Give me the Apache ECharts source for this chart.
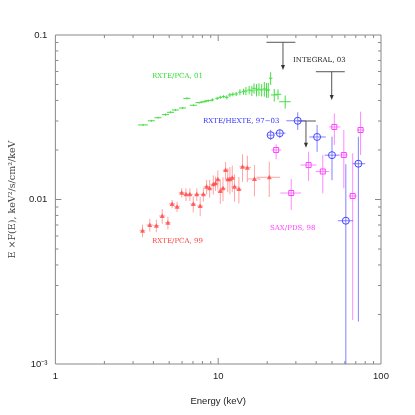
<!DOCTYPE html>
<html>
<head>
<meta charset="utf-8">
<script src="https://cdn.jsdelivr.net/npm/echarts@6/dist/echarts.min.js"></script>
<style>
  html, body { margin: 0; padding: 0; background: #fff; }
  #chart { width: 415px; height: 415px; }
</style>
</head>
<body>
<div id="chart"></div>
<script>
// RXTE/PCA 2001 (green) - energy (keV), half bin width, E*F(E), error
var pca01Energy = [3.46, 3.89, 4.27, 4.75, 5.10, 5.46, 6.05, 6.43, 7.05, 7.64, 8.19, 8.70, 9.20, 9.86, 10.3, 10.8, 11.3, 11.8,
  12.3, 12.9, 13.6, 14.3, 14.8, 15.5, 16.1, 16.6, 17.2, 17.8, 18.5, 19.2, 19.8, 20.3, 21.0, 22.1, 23.3, 25.8];
var pca01EnergyErr = [0.24, 0.19, 0.21, 0.24, 0.26, 0.27, 0.30, 0.32, 0.35, 0.38, 0.41, 0.43, 0.23, 0.25, 0.26, 0.27, 0.28, 0.30,
  0.31, 0.32, 0.34, 0.36, 0.37, 0.39, 0.40, 0.42, 0.43, 0.45, 0.46, 0.48, 0.50, 0.51, 0.53, 1.0, 1.1, 2.1];
var pca01Flux = [0.0284, 0.0301, 0.0314, 0.0328, 0.0339, 0.0350, 0.0360, 0.0412, 0.0374, 0.0388, 0.0393, 0.0399, 0.0403, 0.0412,
  0.0418, 0.0422, 0.0418, 0.0432, 0.0436, 0.0438, 0.0449, 0.0452, 0.0457, 0.0463, 0.0458, 0.0474, 0.0463, 0.0468, 0.0463, 0.0470,
  0.0463, 0.0463, 0.0546, 0.0432, 0.0436, 0.0393];
var pca01FluxErr = [0.0004, 0.0004, 0.0004, 0.0005, 0.0005, 0.0005, 0.0005, 0.0006, 0.0005, 0.0005, 0.0006, 0.0006, 0.0009, 0.0009,
  0.0009, 0.0009, 0.0012, 0.0012, 0.0012, 0.0012, 0.0019, 0.0019, 0.0026, 0.0027, 0.0033, 0.0034, 0.0040, 0.0041, 0.0040, 0.0048,
  0.0048, 0.0048, 0.0048, 0.0038, 0.0031, 0.0036];

// RXTE/PCA 1999 (red)
var pca99Energy = [3.43, 3.80, 4.17, 4.53, 4.91, 5.21, 5.59, 5.97, 6.34, 6.70, 7.03, 7.39, 7.75, 8.11, 8.49, 8.86, 9.33, 9.63,
  9.95, 10.3, 10.7, 11.1, 11.45, 11.8, 12.2, 12.6, 13.4, 14.1, 15.1, 16.7, 20.6];
var pca99EnergyErr = [0.15, 0.17, 0.18, 0.2, 0.2, 0.22, 0.24, 0.25, 0.27, 0.28, 0.3, 0.3, 0.32, 0.34, 0.35, 0.37, 0.38, 0.4,
  0.4, 0.42, 0.44, 0.46, 0.47, 0.48, 0.5, 0.52, 0.55, 0.6, 0.8, 1.5, 3.4];
var pca99Flux = [0.00646, 0.00700, 0.00693, 0.00794, 0.00723, 0.0094, 0.00904, 0.0110, 0.01075, 0.01075, 0.00939, 0.01075, 0.00913,
  0.01075, 0.01196, 0.01170, 0.01237, 0.01254, 0.01327, 0.01126, 0.0117, 0.01511, 0.01327, 0.01327, 0.01357, 0.01196, 0.01158,
  0.01582, 0.01561, 0.01333, 0.01365];
var pca99FluxErr = [0.00057, 0.00062, 0.00061, 0.00082, 0.00064, 0.00054, 0.00066, 0.00072, 0.00095, 0.00095, 0.00104, 0.00095,
  0.00122, 0.00105, 0.00117, 0.00144, 0.00166, 0.00123, 0.00178, 0.00187, 0.00194, 0.0018, 0.0022, 0.0025, 0.0025, 0.00227,
  0.00212, 0.003, 0.00286, 0.00288, 0.0033];

// RXTE/HEXTE 97-03 (blue)
var hexteEnergy = [21.0, 23.9, 30.8, 40.5, 50.0, 60.8, 72.6];
var hexteEnergyLo = [20.1, 22.2, 26.2, 36.3, 45.1, 54.3, 67.0];
var hexteEnergyHi = [22.0, 25.9, 34.6, 45.8, 55.7, 67.4, 80.0];
var hexteFlux = [0.0246, 0.0253, 0.0301, 0.0240, 0.0186, 0.00743, 0.0165];
var hexteFluxLo = [0.0230, 0.0236, 0.0265, 0.0195, 0.0131, 0.0008, 0.00181];
var hexteFluxHi = [0.0265, 0.0267, 0.0339, 0.0284, 0.0241, 0.0164, 0.0241];

// SAX/PDS 98 (magenta)
var pdsEnergy = [22.7, 28.1, 35.9, 43.9, 51.7, 59.1, 67.0, 74.9];
var pdsEnergyLo = [21.2, 24.1, 32.0, 39.8, 47.9, 56.4, 63.4, 71.2];
var pdsEnergyHi = [24.4, 32.3, 40.2, 47.9, 56.4, 62.5, 71.2, 79.2];
var pdsFlux = [0.0200, 0.01095, 0.0162, 0.0148, 0.0276, 0.01865, 0.0105, 0.02645];
var pdsFluxLo = [0.01755, 0.00863, 0.0130, 0.0109, 0.02145, 0.0117, 0.00185, 0.01865];
var pdsFluxHi = [0.02165, 0.01333, 0.01953, 0.01865, 0.0334, 0.02645, 0.0191, 0.0342];

// upper limits (INTEGRAL 03 x2, HEXTE x1)
var ulEnergy = [25.0, 49.8, 34.6];
var ulEnergyLo = [19.8, 39.8, 31.0];
var ulEnergyHi = [29.8, 59.9, 39.8];
var ulFlux = [0.0903, 0.0598, 0.0300];
var ulArrowTip = [0.0613, 0.0403, 0.0206];

// axis ticks and labels
var xTicks = [2, 3, 4, 5, 6, 7, 8, 9, 10, 20, 30, 40, 50, 60, 70, 80, 90];
var yTicks = [0.002, 0.003, 0.004, 0.005, 0.006, 0.007, 0.008, 0.009, 0.01, 0.02, 0.03, 0.04, 0.05, 0.06, 0.07, 0.08, 0.09];
var xTickLabels = ['1', '10', '100'];          // 10^0 .. 10^2
var yTickLabels = ['10\u207b\u00b3', '0.01', '0.1']; // 10^-3 .. 10^-1

var axisGray = '#888';
var labelFont = 'Liberation Sans, Arial, sans-serif';
var serifFont = 'DejaVu Serif, serif';

// 对称误差 -> [x, y, xlo, xhi, ylo, yhi]
function symItems(xs, dxs, ys, dys) {
  return xs.map(function (x, i) {
    return [x, ys[i], x - dxs[i], x + dxs[i], ys[i] - dys[i], ys[i] + dys[i]];
  });
}
function boundItems(xs, xlo, xhi, ys, ylo, yhi) {
  return xs.map(function (x, i) {
    return [x, ys[i], xlo[i], xhi[i], ylo[i], yhi[i]];
  });
}

function errorBars(color, barColor, marker) {
  return function (params, api) {
    var x = api.value(0), y = api.value(1);
    var c = api.coord([x, y]);
    var l = api.coord([api.value(2), y]);
    var r = api.coord([api.value(3), y]);
    var lo = api.coord([x, api.value(4)]);
    var hi = api.coord([x, api.value(5)]);
    var st = { stroke: barColor, lineWidth: 1 };
    var children = [
      { type: 'line', shape: { x1: l[0], y1: c[1], x2: r[0], y2: c[1] }, style: st },
      { type: 'line', shape: { x1: c[0], y1: lo[1], x2: c[0], y2: hi[1] }, style: st }
    ];
    if (marker === 'circle') {
      children.push({ type: 'circle', shape: { cx: c[0], cy: c[1], r: 3.5 }, style: { stroke: color, fill: 'none', lineWidth: 1 } });
    } else if (marker === 'square') {
      children.push({ type: 'rect', shape: { x: c[0] - 2.5, y: c[1] - 2.5, width: 5, height: 5 }, style: { stroke: color, fill: 'none', lineWidth: 1 } });
    } else if (marker === 'triangle') {
      children.push({ type: 'polygon', shape: { points: [[c[0], c[1] - 2.5], [c[0] - 2.5, c[1] + 2], [c[0] + 2.5, c[1] + 2]] }, style: { fill: color } });
    }
    return { type: 'group', children: children };
  };
}

function upperLimit(params, api) {
  var x = api.value(0);
  var top = api.coord([x, api.value(3)]);
  var l = api.coord([api.value(1), api.value(3)]);
  var r = api.coord([api.value(2), api.value(3)]);
  var tip = api.coord([x, api.value(4)]);
  var st = { stroke: '#555', lineWidth: 1 };
  return {
    type: 'group',
    children: [
      { type: 'line', shape: { x1: l[0], y1: l[1], x2: r[0], y2: r[1] }, style: st },
      { type: 'line', shape: { x1: top[0], y1: top[1], x2: tip[0], y2: tip[1] - 3 }, style: st },
      { type: 'polygon', shape: { points: [[tip[0], tip[1]], [tip[0] - 2, tip[1] - 5], [tip[0] + 2, tip[1] - 5]] }, style: { fill: '#333' } }
    ]
  };
}

function isMajor(v) {
  var e = Math.log10(v);
  return Math.abs(e - Math.round(e)) < 1e-6;
}

// 刻度线画在四条边上，朝内
function xTickItem(params, api) {
  var v = api.value(0);
  var len = isMajor(v) ? 6 : 3;
  var b = api.coord([v, 0.001]);
  var t = api.coord([v, 0.1]);
  var st = { stroke: axisGray, lineWidth: 1 };
  return {
    type: 'group',
    children: [
      { type: 'line', shape: { x1: b[0], y1: b[1], x2: b[0], y2: b[1] - len }, style: st },
      { type: 'line', shape: { x1: t[0], y1: t[1], x2: t[0], y2: t[1] + len }, style: st }
    ]
  };
}
function yTickItem(params, api) {
  var v = api.value(1);
  var len = isMajor(v) ? 6 : 3;
  var l = api.coord([1, v]);
  var r = api.coord([100, v]);
  var st = { stroke: axisGray, lineWidth: 1 };
  return {
    type: 'group',
    children: [
      { type: 'line', shape: { x1: l[0], y1: l[1], x2: l[0] + len, y2: l[1] }, style: st },
      { type: 'line', shape: { x1: r[0], y1: r[1], x2: r[0] - len, y2: r[1] }, style: st }
    ]
  };
}

var chart = echarts.init(document.getElementById('chart'));

var option = {
  animation: false,
  backgroundColor: '#fff',
  grid: { left: 51, top: 35, width: 330, height: 329, show: true, borderColor: axisGray, borderWidth: 1, backgroundColor: 'transparent' },
  xAxis: {
    type: 'log', logBase: 10, min: 1, max: 100,
    name: 'Energy (keV)', nameLocation: 'middle', nameGap: 32,
    nameTextStyle: { fontFamily: labelFont, fontSize: 9.5, color: '#222' },
    axisLine: { show: false }, axisTick: { show: false }, splitLine: { show: false },
    axisLabel: {
      margin: 7, fontFamily: labelFont, fontSize: 9.5, color: '#222',
      formatter: function (v) { return xTickLabels[Math.round(Math.log10(v))]; }
    }
  },
  yAxis: {
    type: 'log', logBase: 10, min: 0.001, max: 0.1,
    name: 'E \u00d7F(E), keV\u00b2/s/cm\u00b2/keV', nameLocation: 'middle', nameGap: 31, nameRotate: 90,
    nameTextStyle: { fontFamily: serifFont, fontSize: 9.5, color: '#444' },
    axisLine: { show: false }, axisTick: { show: false }, splitLine: { show: false },
    axisLabel: {
      margin: 8, fontFamily: labelFont, fontSize: 9.5, color: '#222',
      formatter: function (v) { return yTickLabels[Math.round(Math.log10(v)) + 3]; }
    }
  },
  series: [
    { type: 'custom', name: 'xticks', silent: true, renderItem: xTickItem, data: xTicks.map(function (v) { return [v, 0.01]; }), encode: { x: 0, y: 1 } },
    { type: 'custom', name: 'yticks', silent: true, renderItem: yTickItem, data: yTicks.map(function (v) { return [10, v]; }), encode: { x: 0, y: 1 } },
    { type: 'custom', name: 'upper limits', clip: true, renderItem: upperLimit,
      data: ulEnergy.map(function (x, i) { return [x, ulEnergyLo[i], ulEnergyHi[i], ulFlux[i], ulArrowTip[i]]; }),
      encode: { x: 0, y: 3 } },
    { type: 'custom', name: 'RXTE/PCA, 99', clip: true, renderItem: errorBars('rgba(255,70,70,0.8)', 'rgba(255,90,90,0.55)', 'triangle'),
      data: symItems(pca99Energy, pca99EnergyErr, pca99Flux, pca99FluxErr), encode: { x: 0, y: 1 } },
    { type: 'custom', name: 'RXTE/PCA, 01', clip: true, renderItem: errorBars('#33dd33', '#44dd44', 'none'),
      data: symItems(pca01Energy, pca01EnergyErr, pca01Flux, pca01FluxErr), encode: { x: 0, y: 1 } },
    { type: 'custom', name: 'SAX/PDS, 98', clip: true, renderItem: errorBars('#ff44ff', 'rgba(255,100,255,0.75)', 'square'),
      data: boundItems(pdsEnergy, pdsEnergyLo, pdsEnergyHi, pdsFlux, pdsFluxLo, pdsFluxHi), encode: { x: 0, y: 1 } },
    { type: 'custom', name: 'RXTE/HEXTE, 97-03', clip: true, renderItem: errorBars('#4444ff', 'rgba(90,90,255,0.75)', 'circle'),
      data: boundItems(hexteEnergy, hexteEnergyLo, hexteEnergyHi, hexteFlux, hexteFluxLo, hexteFluxHi), encode: { x: 0, y: 1 } }
  ],
  graphic: [
    { type: 'text', style: { x: 152, y: 76, text: 'RXTE/PCA, 01', font: '7px ' + serifFont, fill: '#33dd33', verticalAlign: 'middle' } },
    { type: 'text', style: { x: 293, y: 60, text: 'INTEGRAL, 03', font: '7px ' + serifFont, fill: '#222', verticalAlign: 'middle' } },
    { type: 'text', style: { x: 203, y: 121, text: 'RXTE/HEXTE, 97\u221203', font: '7px ' + serifFont, fill: '#3333ff', verticalAlign: 'middle' } },
    { type: 'text', style: { x: 270, y: 228, text: 'SAX/PDS, 98', font: '7px ' + serifFont, fill: '#ff44ff', verticalAlign: 'middle' } },
    { type: 'text', style: { x: 152, y: 241, text: 'RXTE/PCA, 99', font: '7px ' + serifFont, fill: '#ff4444', verticalAlign: 'middle' } }
  ]
};

chart.setOption(option);
</script>
</body>
</html>
